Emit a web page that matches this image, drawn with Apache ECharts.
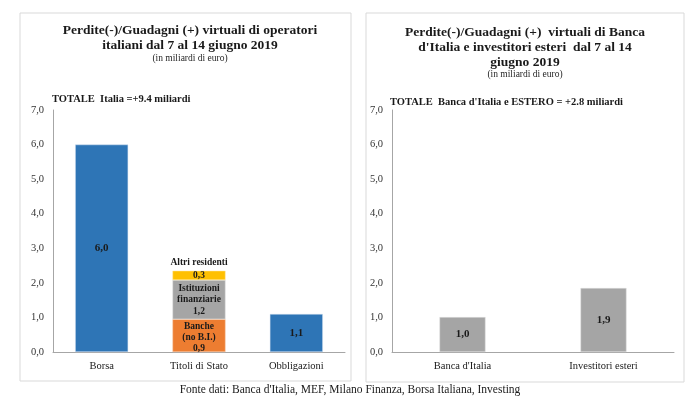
<!DOCTYPE html>
<html>
<head>
<meta charset="utf-8">
<script src="https://cdn.jsdelivr.net/npm/echarts@6/dist/echarts.min.js"></script>
<style>
html,body{margin:0;padding:0;background:#fff}
#main{width:700px;height:398px}
</style>
</head>
<body>
<div id="main"></div>
<script>
// left panel
var catLeft = ['Borsa', 'Titoli di Stato', 'Obbligazioni']
var singleVals = [6.0, '-', 1.1]
var singleLabels = ['6,0', '', '1,1']
var bancheVals = ['-', 0.95, '-']
var istitVals = ['-', 1.13, '-']
var altriVals = ['-', 0.27, '-']
// right panel
var catRight = ["Banca d'Italia", 'Investitori esteri']
var rightVals = [1.01, 1.85]
var rightLabels = ['1,0', '1,9']
var yTicks = [0, 1, 2, 3, 4, 5, 6, 7]

var font = '"Liberation Serif", "DejaVu Serif", serif'

function fmt(v) { return v.toFixed(1).replace('.', ',') }

var yAxisBase = {
    type: 'value',
    min: 0, max: 7, interval: 1,
    axisLine: {show: true, lineStyle: {color: '#a6a6a6'}},
    axisTick: {show: false},
    splitLine: {show: false},
    axisLabel: {color: '#333', fontFamily: font, fontSize: 10.5, formatter: fmt, margin: 9}
}
var xAxisBase = {
    type: 'category',
    axisLine: {lineStyle: {color: '#a6a6a6'}},
    axisTick: {show: false},
    axisLabel: {color: '#1a1a1a', fontFamily: font, fontSize: 10.5, margin: 9}
}
var lblStyle = {show: true, color: '#1a1a1a', fontFamily: font, fontWeight: 'bold', fontSize: 11, lineHeight: 12}

var option = {
    animation: false,
    graphic: [
        {type: 'rect', shape: {x: 20, y: 13, width: 331, height: 368}, style: {fill: 'none', stroke: '#d9d9d9', lineWidth: 1}},
        {type: 'rect', shape: {x: 366, y: 13, width: 318, height: 369}, style: {fill: 'none', stroke: '#d9d9d9', lineWidth: 1}},
        {type: 'text', style: {text: 'Perdite(-)/Guadagni (+) virtuali di operatori\nitaliani dal 7 al 14 giugno 2019', x: 190, y: 23, align: 'center', font: 'bold 13.5px ' + font, fill: '#1a1a1a', lineHeight: 15}},
        {type: 'text', style: {text: '(in miliardi di euro)', x: 190, y: 53, align: 'center', font: '9.5px ' + font, fill: '#262626'}},
        {type: 'text', style: {text: 'TOTALE  Italia =+9.4 miliardi', x: 52, y: 94, align: 'left', font: 'bold 10.5px ' + font, fill: '#1a1a1a'}},
        {type: 'text', style: {text: "Perdite(-)/Guadagni (+)  virtuali di Banca\nd'Italia e investitori esteri  dal 7 al 14\ngiugno 2019", x: 525, y: 25, align: 'center', font: 'bold 13.5px ' + font, fill: '#1a1a1a', lineHeight: 15}},
        {type: 'text', style: {text: '(in miliardi di euro)', x: 525, y: 69, align: 'center', font: '9.5px ' + font, fill: '#262626'}},
        {type: 'text', style: {text: "TOTALE  Banca d'Italia e ESTERO = +2.8 miliardi", x: 390, y: 97, align: 'left', font: 'bold 10.5px ' + font, fill: '#1a1a1a'}},
        {type: 'text', style: {text: "Fonte dati: Banca d'Italia, MEF, Milano Finanza, Borsa Italiana, Investing", x: 350, y: 384, align: 'center', font: '11.5px ' + font, fill: '#1a1a1a'}}
    ],
    grid: [
        {left: 53, top: 110, width: 292, height: 242},
        {left: 392, top: 110, width: 282, height: 242}
    ],
    xAxis: [
        Object.assign({}, xAxisBase, {gridIndex: 0, data: catLeft}),
        Object.assign({}, xAxisBase, {gridIndex: 1, data: catRight})
    ],
    yAxis: [
        Object.assign({}, yAxisBase, {gridIndex: 0}),
        Object.assign({}, yAxisBase, {gridIndex: 1})
    ],
    series: [
        {
            type: 'bar', xAxisIndex: 0, yAxisIndex: 0, stack: 'a', barWidth: 53,
            data: singleVals,
            itemStyle: {color: '#2e75b6', borderColor: '#d6e3f0', borderWidth: 0.5},
            label: Object.assign({}, lblStyle, {position: 'inside', formatter: function (p) { return singleLabels[p.dataIndex] }})
        },
        {
            type: 'bar', xAxisIndex: 0, yAxisIndex: 0, stack: 'a', barWidth: 53,
            data: bancheVals,
            itemStyle: {color: '#ed7d31', borderColor: '#f6c9a8', borderWidth: 0.5},
            label: Object.assign({}, lblStyle, {position: 'inside', fontSize: 9.5, lineHeight: 11, offset: [0, 2], formatter: 'Banche\n(no B.I.)\n0,9'})
        },
        {
            type: 'bar', xAxisIndex: 0, yAxisIndex: 0, stack: 'a', barWidth: 53,
            data: istitVals,
            itemStyle: {color: '#a5a5a5', borderColor: '#e0e0e0', borderWidth: 0.5},
            label: Object.assign({}, lblStyle, {position: 'inside', fontSize: 9.5, lineHeight: 11.5, formatter: 'Istituzioni\nfinanziarie\n1,2'})
        },
        {
            type: 'bar', xAxisIndex: 0, yAxisIndex: 0, stack: 'a', barWidth: 53,
            data: altriVals,
            itemStyle: {color: '#ffc000', borderColor: '#ffe7a0', borderWidth: 0.5},
            label: Object.assign({}, lblStyle, {position: 'inside', fontSize: 9.5, lineHeight: 10, formatter: '0,3'})
        },
        {
            // label only for the top segment name
            type: 'bar', xAxisIndex: 0, yAxisIndex: 0, stack: 'a', barWidth: 53,
            data: ['-', 0.0001, '-'],
            itemStyle: {color: 'transparent'},
            label: Object.assign({}, lblStyle, {position: 'top', fontSize: 9.5, distance: 2, formatter: 'Altri residenti'})
        },
        {
            type: 'bar', xAxisIndex: 1, yAxisIndex: 1, barWidth: 46,
            data: rightVals,
            itemStyle: {color: '#a5a5a5', borderColor: '#e0e0e0', borderWidth: 0.5},
            label: Object.assign({}, lblStyle, {position: 'inside', formatter: function (p) { return rightLabels[p.dataIndex] }})
        }
    ]
}

var chart = echarts.init(document.getElementById('main'))
chart.setOption(option)
</script>
</body>
</html>
